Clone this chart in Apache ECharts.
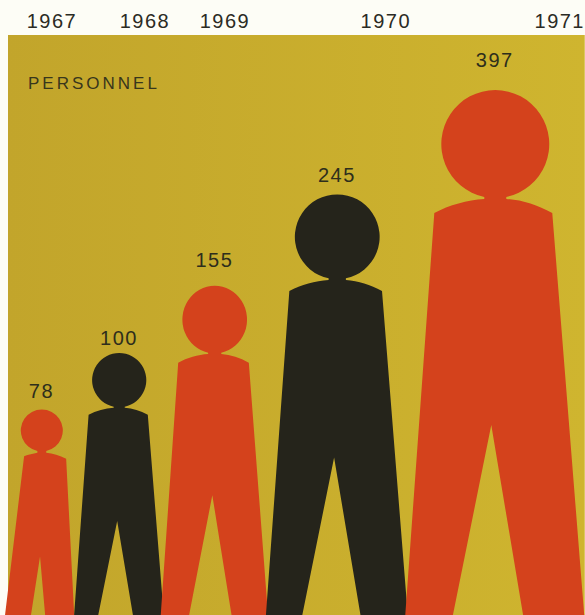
<!DOCTYPE html>
<html>
<head>
<meta charset="utf-8">
<title>Personnel</title>
<script src="https://cdn.jsdelivr.net/npm/echarts@6/dist/echarts.min.js"></script>
<style>
html, body { margin: 0; padding: 0; background: #fdfdf6; }
#chart { width: 585px; height: 615px; }
/* 原图的字距很宽 */
#chart text { letter-spacing: 1.5px; }
#chart text[style*="17px"] { letter-spacing: 3px; }
</style>
</head>
<body>
<div id="chart"></div>
<script>
// 数据
const years = ['1967', '1968', '1969', '1970', '1971']
const personnel = [78, 100, 155, 245, 397]

// 版面: x轴单位就是像素
const yearLabelX = [52, 145, 225, 386, 560]
const figureX = [38.5, 119, 214.5, 337, 495]
// 每个人形的脚在画面底边以下多少像素
const footDrop = [33, 8, 7, 2, 13]
const labelGap = [9, 5, 16, 9, 20]
const labelShift = [3, 0, 0, 0, 0]
const widthPerRoot = [8.47, 9.08, 8.7, 9.08, 9.08]
const heightPerRoot = 27
const figureColors = ['#d4421c', '#25241b', '#d4421c', '#25241b', '#d4421c']

// 人形: 面积和人数成正比, 所以宽高按开方
const bigFigure = 'path://M99 107A54 54 0 1 0 77 107L77 109C60 110 42 115 27 123L-3 538L43 538L84 335L118 538L178 538L145 123C130 115 115 110 99 109Z'
// 1967那个头小一点, 肩窄一点
const smallFigure = 'path://M100 90A47.5 47.5 0 1 0 80 90L80 94C70 96 60 98 50 102L-2 538L54 538L86 330L104 538L167 538L145 108C130 100 115 96 100 94Z'
const figureShapes = [smallFigure, bigFigure, bigFigure, bigFigure, bigFigure]

const figures = personnel.map(function (v, i) {
  const h = Math.sqrt(v) * heightPerRoot
  return {
    value: [figureX[i], 0, v],
    symbol: figureShapes[i],
    symbolOffset: [0, footDrop[i] - h / 2],
    itemStyle: { color: figureColors[i] },
    label: { distance: labelGap[i], offset: [labelShift[i], 0] }
  }
})

const myChart = echarts.init(document.getElementById('chart'), null, { renderer: 'svg' })
myChart.setOption({
  animation: false,
  backgroundColor: '#fdfdf6',
  title: {
    text: 'PERSONNEL',
    left: 23,
    top: 70,
    textStyle: { fontFamily: 'Liberation Sans', fontSize: 17, fontWeight: 'normal', color: '#38361c' }
  },
  grid: {
    left: 8,
    right: 0,
    top: 35,
    bottom: 0,
    show: true,
    borderWidth: 0,
    backgroundColor: {
      type: 'linear', x: 0, y: 0, x2: 1, y2: 0,
      colorStops: [{ offset: 0, color: '#c2a52b' }, { offset: 1, color: '#cfb52f' }]
    }
  },
  xAxis: {
    type: 'value',
    position: 'top',
    min: 8,
    max: 585,
    splitLine: { show: false },
    axisLine: { show: false },
    axisTick: { show: false },
    axisLabel: {
      customValues: yearLabelX,
      hideOverlap: false,
      margin: 4,
      fontFamily: 'Liberation Sans',
      fontSize: 20,
      color: '#2b2b24',
      formatter: function (val) {
        return years[yearLabelX.indexOf(val)]
      }
    }
  },
  yAxis: {
    type: 'value',
    min: 0,
    max: 1,
    show: false
  },
  series: [{
    type: 'scatter',
    clip: false,
    itemStyle: { opacity: 1 },
    symbolSize: function (val, params) {
      const root = Math.sqrt(val[2])
      return [root * widthPerRoot[params.dataIndex], root * heightPerRoot]
    },
    label: {
      show: true,
      position: 'top',
      fontFamily: 'Liberation Sans',
      fontSize: 20,
      color: '#2e2e1c',
      formatter: function (p) {
        return p.value[2]
      }
    },
    data: figures
  }]
})
</script>
</body>
</html>
